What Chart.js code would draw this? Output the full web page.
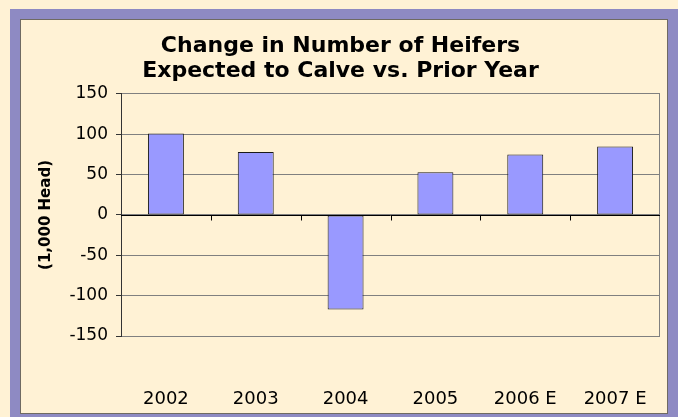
<!DOCTYPE html>
<html>
<head>
<meta charset="utf-8">
<script src="https://cdn.jsdelivr.net/npm/chart.js@4"></script>
<style>
  html, body { margin: 0; padding: 0; background: #FFF2D5; }
  #wrap { width: 678px; height: 417px; position: relative; }
</style>
</head>
<body>
<div id="wrap"><canvas id="c" width="678" height="417"></canvas></div>
<script>
const categories = ['2002', '2003', '2004', '2005', '2006 E', '2007 E'];
const changeValues = [101, 78, -117, 53, 75, 85];
const yMin = -150;
const yMax = 150;
const yStep = 50;
const titleLines = ['Change in Number of Heifers', 'Expected to Calve vs. Prior Year'];
const yAxisTitle = '(1,000 Head)';

const framePlugin = {
  id: 'frame',
  beforeDraw(chart) {
    const ctx = chart.ctx;
    ctx.save();
    ctx.fillStyle = '#FFF2D5';
    ctx.fillRect(0, 0, chart.width, chart.height);
    ctx.fillStyle = '#8E8AC3';
    ctx.fillRect(10, 9, chart.width - 10, chart.height - 9);
    ctx.fillStyle = '#FFF2D5';
    ctx.fillRect(21, 20, chart.width - 32, chart.height - 24);
    ctx.strokeStyle = '#6F6A62';
    ctx.lineWidth = 1;
    ctx.strokeRect(20.5, 19.5, chart.width - 31, chart.height - 23);
    ctx.restore();
  },
  afterDatasetsDraw(chart) {
    const ctx = chart.ctx;
    const area = chart.chartArea;
    const xs = chart.scales.x;
    const ys = chart.scales.y;
    ctx.save();
    // right border of plot area
    ctx.strokeStyle = '#808080';
    ctx.lineWidth = 1;
    ctx.beginPath();
    ctx.moveTo(Math.round(area.right) - 0.5, area.top);
    ctx.lineTo(Math.round(area.right) - 0.5, area.bottom);
    ctx.stroke();
    // zero line with category tick marks
    const y0 = Math.round(ys.getPixelForValue(0)) + 0.5;
    ctx.strokeStyle = '#000000';
    ctx.beginPath();
    ctx.moveTo(area.left, y0);
    ctx.lineTo(area.right, y0);
    const n = categories.length;
    const step = xs.getPixelForValue(1) - xs.getPixelForValue(0);
    for (let i = 1; i < n; i++) {
      const bx = Math.round(xs.getPixelForValue(0) - step / 2 + i * step) + 0.5;
      ctx.moveTo(bx, y0);
      ctx.lineTo(bx, y0 + 5);
    }
    ctx.stroke();
    ctx.restore();
  }
};

new Chart(document.getElementById('c'), {
  type: 'bar',
  data: {
    labels: categories,
    datasets: [{
      data: changeValues,
      backgroundColor: '#9999FF',
      borderColor: '#1A1A1A',
      borderWidth: 1,
      borderSkipped: false,
      barPercentage: 0.4,
      categoryPercentage: 1.0
    }]
  },
  options: {
    responsive: false,
    animation: false,
    devicePixelRatio: 1,
    layout: { autoPadding: false, padding: { left: 21, right: 18, top: 20, bottom: 4 } },
    plugins: {
      legend: { display: false },
      tooltip: { enabled: false },
      title: {
        display: true,
        text: titleLines,
        color: '#000000',
        font: { family: 'DejaVu Sans', size: 22, weight: 'bold', lineHeight: 1.136 },
        padding: { top: 14, bottom: 10 }
      }
    },
    scales: {
      x: {
        grid: { display: false },
        border: { display: false },
        ticks: {
          color: '#000000',
          font: { family: 'DejaVu Sans', size: 18 },
          padding: 45,
          maxRotation: 0,
          autoSkip: false
        },
        afterFit(scale) {
          scale.height = 77;
          scale.paddingLeft = 0;
          scale.paddingRight = 0;
        }
      },
      y: {
        min: yMin,
        max: yMax,
        ticks: {
          stepSize: yStep,
          color: '#000000',
          font: { family: 'DejaVu Sans', size: 17 },
          padding: 8
        },
        grid: {
          color: '#808080',
          lineWidth: 1,
          tickLength: 5,
          tickColor: '#333333',
          drawTicks: true
        },
        border: { display: true, color: '#333333', width: 1 },
        title: {
          display: true,
          text: yAxisTitle,
          color: '#000000',
          font: { family: 'DejaVu Sans', size: 15, weight: 'bold' },
          padding: { top: 16, bottom: 0 }
        },
        afterFit(scale) {
          scale.width = 100;
          scale.paddingTop = 0;
          scale.paddingBottom = 0;
        }
      }
    }
  },
  plugins: [framePlugin]
});
</script>
</body>
</html>
